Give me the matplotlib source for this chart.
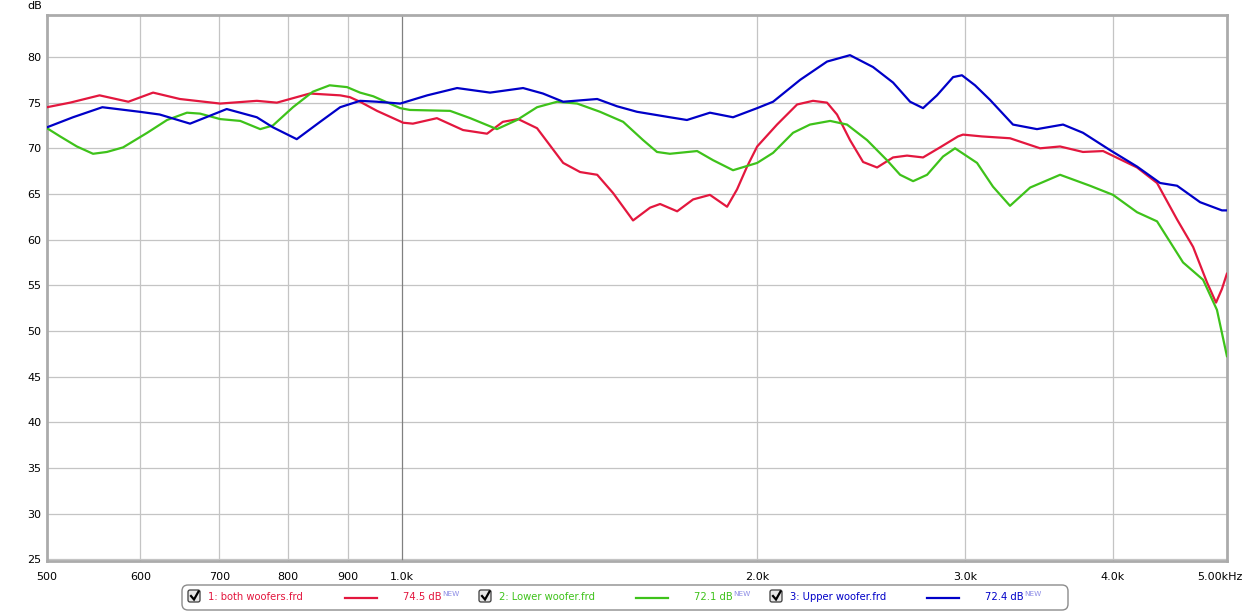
import matplotlib
matplotlib.use("Agg")
import matplotlib.pyplot as plt
from matplotlib.patches import FancyBboxPatch
from matplotlib.lines import Line2D
from matplotlib.transforms import IdentityTransform, ScaledTranslation

# ---------------- data ----------------
both_f = [500, 523, 554, 586, 615, 648, 701, 753, 783, 835, 886, 903, 921, 952, 1002, 1021,
          1070, 1126, 1180, 1217, 1254, 1301, 1369, 1415, 1463, 1509, 1569, 1622, 1654, 1710,
          1764, 1823, 1885, 1922, 1960, 1999, 2078, 2161, 2229, 2291, 2336, 2396, 2458, 2526,
          2606, 2678, 2763, 2856, 2958, 2987, 3100, 3274, 3472, 3610, 3775, 3926, 4195, 4362,
          4536, 4680, 4809, 4894, 4951, 5000]
both_db = [74.5, 75.0, 75.8, 75.1, 76.1, 75.4, 74.9, 75.2, 75.0, 76.0, 75.8, 75.6, 75.1, 74.1,
           72.8, 72.7, 73.3, 72.0, 71.6, 72.9, 73.2, 72.2, 68.4, 67.4, 67.1, 65.1, 62.1, 63.5,
           63.9, 63.1, 64.4, 64.9, 63.6, 65.5, 68.0, 70.2, 72.6, 74.8, 75.2, 75.0, 73.7, 70.9,
           68.5, 67.9, 69.0, 69.2, 69.0, 70.1, 71.3, 71.5, 71.3, 71.1, 70.0, 70.2, 69.6, 69.7,
           67.9, 66.2, 62.2, 59.2, 55.3, 53.1, 54.6, 56.3]

lower_f = [500, 513, 530, 547, 562, 580, 608, 632, 657, 674, 701, 729, 758, 777, 808, 840, 868,
           898, 921, 945, 996, 1015, 1098, 1142, 1203, 1251, 1301, 1353, 1407, 1471, 1539, 1600,
           1644, 1686, 1778, 1834, 1907, 1999, 2062, 2144, 2216, 2305, 2382, 2477, 2575, 2642,
           2710, 2785, 2873, 2941, 3070, 3167, 3274, 3405, 3610, 3827, 4003, 4195, 4362, 4589,
           4772, 4903, 5000]
lower_db = [72.2, 71.3, 70.2, 69.4, 69.6, 70.1, 71.7, 73.1, 73.9, 73.8, 73.2, 73.0, 72.1, 72.5,
            74.5, 76.2, 76.9, 76.7, 76.1, 75.7, 74.4, 74.2, 74.1, 73.3, 72.1, 73.1, 74.5, 75.1,
            74.9, 74.0, 72.9, 70.9, 69.6, 69.4, 69.7, 68.7, 67.6, 68.4, 69.5, 71.7, 72.6, 73.0,
            72.6, 70.9, 68.7, 67.1, 66.4, 67.1, 69.1, 70.0, 68.4, 65.8, 63.7, 65.7, 67.1, 65.9,
            64.9, 63.0, 62.0, 57.5, 55.6, 52.3, 47.2]

upper_f = [500, 526, 557, 599, 623, 661, 710, 753, 777, 814, 852, 886, 921, 952, 996, 1050, 1113,
           1187, 1266, 1316, 1369, 1463, 1521, 1581, 1686, 1743, 1823, 1907, 1999, 2062, 2174,
           2291, 2396, 2506, 2606, 2694, 2763, 2839, 2930, 2981, 3058, 3149, 3293, 3451, 3631,
           3775, 3980, 4195, 4388, 4536, 4744, 4951, 5000]
upper_db = [72.3, 73.4, 74.5, 74.0, 73.7, 72.7, 74.3, 73.4, 72.3, 71.0, 72.9, 74.5, 75.2, 75.1,
            74.9, 75.8, 76.6, 76.1, 76.6, 76.0, 75.1, 75.4, 74.6, 74.0, 73.4, 73.1, 73.9, 73.4,
            74.4, 75.1, 77.5, 79.5, 80.2, 78.9, 77.2, 75.1, 74.4, 75.8, 77.8, 78.0, 76.9, 75.3,
            72.6, 72.1, 72.6, 71.7, 69.8, 68.0, 66.2, 65.9, 64.1, 63.2, 63.2]

series_names = ["1: both woofers.frd", "2: Lower woofer.frd", "3: Upper woofer.frd"]
series_levels = ["74.5 dB", "72.1 dB", "72.4 dB"]
series_colors = ["#E3173E", "#3EC21A", "#0000C8"]

x_ticks = [500, 600, 700, 800, 900, 1000, 2000, 3000, 4000, 5000]
x_labels = ["500", "600", "700", "800", "900", "1.0k", "2.0k", "3.0k", "4.0k", "5.00kHz"]
y_ticks = [25, 30, 35, 40, 45, 50, 55, 60, 65, 70, 75, 80]

# ---------------- figure ----------------
W, H = 1249, 612
fig = plt.figure(figsize=(W / 100, H / 100), dpi=100)
fig.patch.set_facecolor("white")

L, T, R, B = 47, 15, 1227, 561
ax = fig.add_axes([L / W, 1 - B / H, (R - L) / W, (B - T) / H])
ax.set_xscale("log")
ax.set_xlim(500, 5000)
ax.set_ylim(24.8, 84.6)

for f, d, c in zip([both_f, lower_f, upper_f], [both_db, lower_db, upper_db], series_colors):
    ax.plot(f, d, color=c, lw=1.6, solid_joinstyle="round", solid_capstyle="round", zorder=3)

ax.set_xticks(x_ticks)
ax.set_xticklabels(x_labels)
ax.xaxis.set_minor_locator(matplotlib.ticker.NullLocator())
ax.set_yticks(y_ticks)
ax.set_yticklabels([str(v) for v in y_ticks])
ax.tick_params(axis="both", length=0, labelsize=8, colors="#000000")
ax.tick_params(axis="x", pad=8)
ax.tick_params(axis="y", pad=4)

# last x label shifted left like reference
lbl = ax.get_xticklabels()[-1]
lbl.set_transform(lbl.get_transform() + ScaledTranslation(-7 / 100, 0, fig.dpi_scale_trans))

for v in y_ticks:
    ax.axhline(v, color="#c4c4c4", lw=0.9, zorder=1)
for v in x_ticks[1:-1]:
    ax.axvline(v, color="#808080" if v == 1000 else "#c4c4c4", lw=0.9, zorder=1)

for s in ax.spines.values():
    s.set_color("#ababab")
    s.set_linewidth(2.0)

fig.text(35 / W, 1 - 6 / H, "dB", fontsize=8, ha="center", va="center")

# ---------------- legend ----------------
idt = IdentityTransform()


def P(x, y):
    return x, H - y


bx0, by0, bx1, by1 = 182, 585, 1068, 610
box = FancyBboxPatch(P(bx0, by1), bx1 - bx0, by1 - by0,
                     boxstyle="round,pad=0,rounding_size=6",
                     transform=idt, facecolor="white", edgecolor="#8c8c8c", lw=1.0)
fig.add_artist(box)

cy = 597.5
offsets = [0, 291, 582]
for i in range(3):
    o = offsets[i]
    c = series_colors[i]
    # checkbox
    cb = FancyBboxPatch(P(188 + o, 602), 12, 12, boxstyle="round,pad=0,rounding_size=2",
                        transform=idt, facecolor="#e6e6e6", edgecolor="#3c3c3c", lw=0.9)
    fig.add_artist(cb)
    xs = [191 + o, 194 + o, 198.5 + o]
    ys = [H - 596, H - 599.5, H - 591.5]
    fig.add_artist(Line2D(xs, ys, transform=idt, color="black", lw=1.6,
                          solid_joinstyle="miter"))
    # name
    fig.text(*P(208 + o, cy), series_names[i], transform=idt, fontsize=7.2, color=c,
             ha="left", va="center")
    # line sample
    fig.add_artist(Line2D([345 + o, 377 + o], [H - cy, H - cy], transform=idt, color=c, lw=1.6))
    # level
    fig.text(*P(403 + o, cy), series_levels[i], transform=idt, fontsize=7.2, color=c,
             ha="left", va="center")
    fig.text(*P(442 + o, 594), "NEW", transform=idt, fontsize=5.2, color="#8c8ce6",
             ha="left", va="center")

fig.savefig("out.png", dpi=100, facecolor="white")
